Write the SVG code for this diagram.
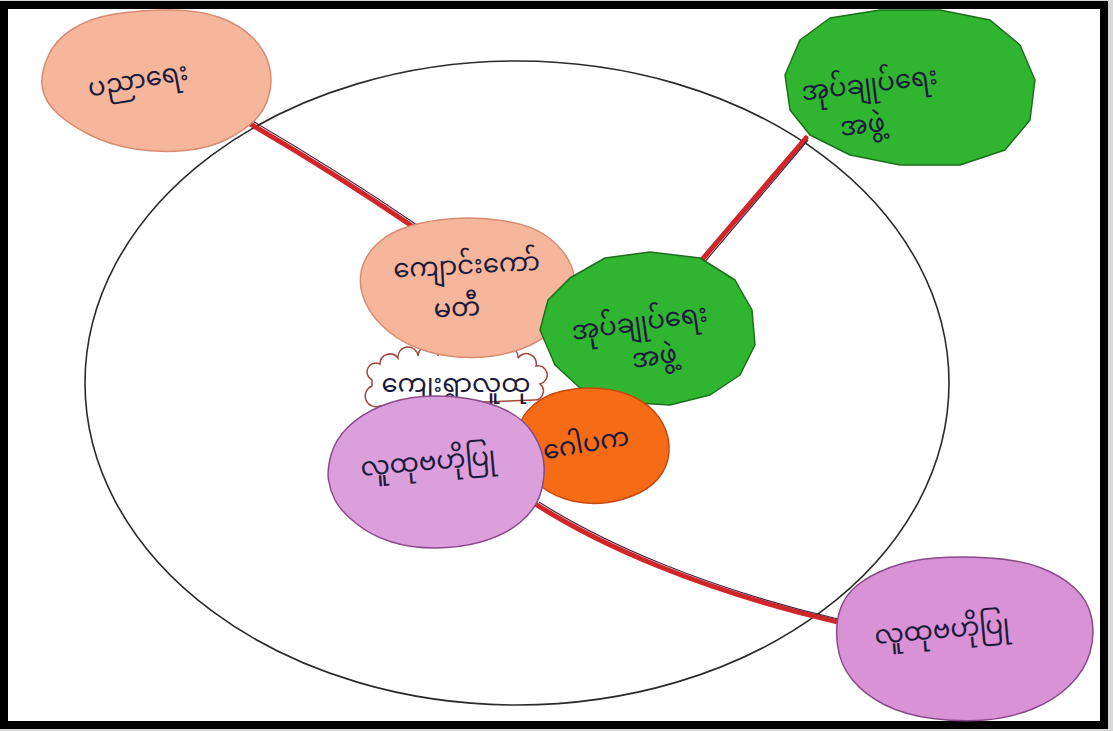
<svg xmlns="http://www.w3.org/2000/svg" width="1113" height="731" viewBox="0 0 1113 731">
<style>
.lbl{font-family:"Noto Sans Myanmar","Padauk","Myanmar Text","Myanmar3","Noto Sans","DejaVu Sans",sans-serif;font-size:26px;fill:#1c1a3c;text-anchor:middle}
.shape{stroke-width:1.5;stroke-linejoin:round}
.peach{fill:#f5b69b;stroke:#d98a70}
.green{fill:#2fb52f;stroke:#1d6e1d}
.orange{fill:#f66b16;stroke:#c44a10}
.purple{fill:#dba0db;stroke:#8a4a8a}
.red{fill:none;stroke:#d0262a;stroke-width:5;stroke-linecap:round}
.dark{fill:none;stroke:#4a2040;stroke-width:1.2}
</style>
<rect x="0" y="0" width="1113" height="731" fill="#d8d8d8"/>
<rect x="4" y="5" width="1100" height="720" fill="#ffffff" stroke="#000000" stroke-width="8"/>
<ellipse id="boundary" cx="517" cy="383" rx="432" ry="322" fill="none" stroke="#2a2a2a" stroke-width="1.6"/>
<g id="connectors">
<path class="red" d="M247,122 Q330,170 415,228"/>
<path class="dark" d="M249,119 Q332,167 417,225"/>
<path class="red" d="M806,138 L700,262"/>
<path class="dark" d="M808,140 L703,264"/>
<path class="red" d="M537,505 C600,545 700,590 838,622"/>
<path class="dark" d="M539,502 C602,542 702,587 838,619"/>
</g>
<g id="n-education">
<path class="shape peach" d="M47.5,57.5 Q55,40 72.5,29 Q90,18 115,14 Q140,10 170,10 Q200,10 220,17.5 Q240,25 252.5,37.5 Q265,50 269,65 Q273,80 269,95 Q265,110 255,120 Q245,130 227.5,139 Q210,148 185,150.5 Q160,153 135,149 Q110,145 90,135 Q70,125 57.5,113.5 Q45,102 42.5,88.5 Q40,75 47.5,57.5 Z"/>
<text class="lbl" x="138" y="88" transform="rotate(-10 138 80)">ပညာရေး</text>
</g>
<g id="n-admin-outer">
<polygon class="shape green" points="785,75 800,40 830,18 880,10 940,10 990,20 1020,45 1035,80 1030,120 1005,150 960,165 900,165 850,155 810,135 790,110"/>
<text class="lbl" transform="rotate(-7 872 105)"><tspan x="872" y="92">အုပ်ချုပ်ရေး</tspan><tspan x="860" y="132">အဖွဲ့</tspan></text>
</g>
<g id="n-community">
<path d="M372,380 a8,8 0 0 1 8,-16 a10,10 0 0 1 18,-6 a10,10 0 0 1 20,-2 a10,10 0 0 1 20,0 a10,10 0 0 1 20,0 a10,10 0 0 1 20,0 a10,10 0 0 1 20,0 a10,10 0 0 1 20,2 a10,10 0 0 1 18,8 a9,9 0 0 1 4,18 a9,9 0 0 1 -6,16 L380,406 a9,9 0 0 1 -8,-20 Z" fill="#ffffff" stroke="#a3473e" stroke-width="1.5"/>
<text class="lbl" x="456" y="392" font-size="24">ကျေးရွာလူထု</text>
</g>
<g id="n-school-committee">
<path class="shape peach" d="M361.5,270 Q365,255 377.5,243.5 Q390,232 410,226 Q430,220 455,218.5 Q480,217 505,221 Q530,225 545,235 Q560,245 568.5,260 Q577,275 573.5,292.5 Q570,310 557.5,325 Q545,340 522.5,348.5 Q500,357 475,357.5 Q450,358 427.5,351.5 Q405,345 388.5,331.5 Q372,318 365,301.5 Q358,285 361.5,270 Z"/>
<text class="lbl" font-size="24" transform="rotate(-3 462 292)"><tspan x="468" y="274">ကျောင်းကော်</tspan><tspan x="456" y="316">မတီ</tspan></text>
</g>
<g id="n-admin-inner">
<polygon class="shape green" points="540,330 548,300 570,278 605,258 650,252 700,258 735,280 752,310 755,345 740,375 710,395 670,405 620,402 580,388 555,365"/>
<text class="lbl" transform="rotate(-8 645 340)"><tspan x="642" y="330">အုပ်ချုပ်ရေး</tspan><tspan x="652" y="366">အဖွဲ့</tspan></text>
</g>
<g id="n-trustee">
<path class="shape orange" d="M518.5,427.5 Q522,415 533.5,405 Q545,395 562.5,391 Q580,387 600,388.5 Q620,390 635,397.5 Q650,405 659,417.5 Q668,430 669,445 Q670,460 662.5,472.5 Q655,485 640,492.5 Q625,500 607.5,502.5 Q590,505 572.5,501 Q555,497 542.5,487.5 Q530,478 522.5,459 Q515,440 518.5,427.5 Z"/>
<text class="lbl" x="586" y="452" transform="rotate(-10 586 444)">ဂေါပက</text>
</g>
<g id="n-cbased-inner">
<path class="shape purple" d="M331,455 Q335,440 347.5,427.5 Q360,415 380,406.5 Q400,398 422.5,396.5 Q445,395 467.5,398.5 Q490,402 507.5,411 Q525,420 534,435 Q543,450 544,465 Q545,480 540,495 Q535,510 520,522.5 Q505,535 482.5,541.5 Q460,548 435,548 Q410,548 390,541.5 Q370,535 355,522.5 Q340,510 335,500 Q330,490 328.5,480 Q327,470 331,455 Z"/>
<text class="lbl" x="428" y="470" transform="rotate(-5 428 462)">လူထုဗဟိုပြု</text>
</g>
<g id="n-cbased-outer">
<path class="shape purple" style="fill:#d992d6" d="M840,610 Q845,595 857.5,585 Q870,575 890,567.5 Q910,560 935,558 Q960,556 990,558 Q1020,560 1040,567.5 Q1060,575 1074,587.5 Q1088,600 1091.5,617.5 Q1095,635 1090,652.5 Q1085,670 1070,685 Q1055,700 1032.5,709 Q1010,718 985,720 Q960,722 932.5,718.5 Q905,715 885,705 Q865,695 852.5,680 Q840,665 837.5,645 Q835,625 840,610 Z"/>
<text class="lbl" x="942" y="638" transform="rotate(-5 942 630)">လူထုဗဟိုပြု</text>
</g>
</svg>
